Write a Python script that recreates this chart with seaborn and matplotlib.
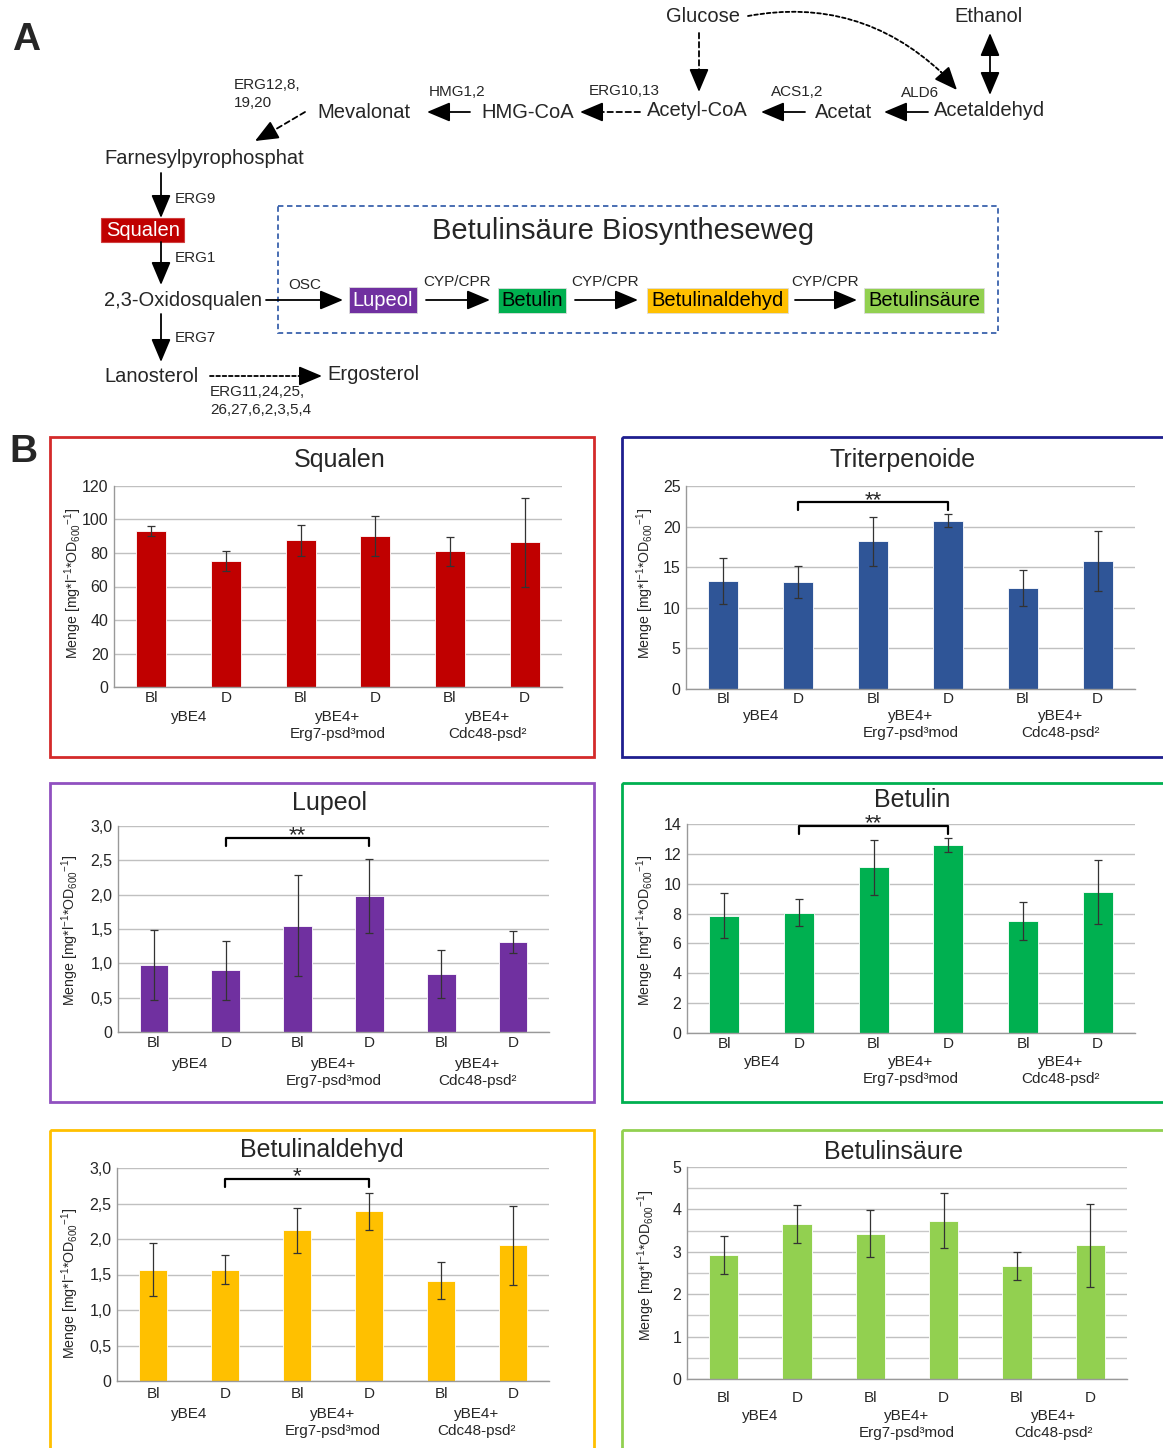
import numpy as np
import pandas as pd
import matplotlib
matplotlib.use("Agg")
import matplotlib.pyplot as plt
import matplotlib.transforms as mtransforms
from matplotlib.patches import Rectangle
import seaborn as sns

sns.set_theme(style="white")
plt.rcParams['font.family'] = ['Liberation Sans', 'DejaVu Sans']
plt.rcParams['mathtext.default'] = 'regular'

W, H = 1163, 1448

# ---------------- data ----------------
bar_labels = ["Bl", "D", "Bl", "D", "Bl", "D"]
strains = ["yBE4", "yBE4+\nErg7-psd³mod", "yBE4+\nCdc48-psd²"]
ylabel = "Menge [mg*l$^{-1}$*OD$_{600}$$^{-1}$]"

squalen_mean = [93, 75, 87.5, 90, 81, 86.5]
squalen_err = [3, 6, 9.5, 12, 8.5, 26.5]

triterp_mean = [13.3, 13.2, 18.2, 20.7, 12.4, 15.8]
triterp_err = [2.8, 2.0, 3.0, 0.8, 2.2, 3.7]

lupeol_mean = [0.98, 0.90, 1.55, 1.98, 0.85, 1.31]
lupeol_err = [0.51, 0.43, 0.73, 0.54, 0.35, 0.16]

betulin_mean = [7.85, 8.05, 11.1, 12.6, 7.5, 9.45]
betulin_err = [1.5, 0.9, 1.85, 0.45, 1.3, 2.15]

aldehyd_mean = [1.57, 1.57, 2.12, 2.39, 1.41, 1.91]
aldehyd_err = [0.37, 0.20, 0.32, 0.26, 0.26, 0.56]

saeure_mean = [2.93, 3.65, 3.43, 3.73, 2.66, 3.15]
saeure_err = [0.45, 0.45, 0.55, 0.65, 0.33, 0.98]

sq_ticks = ["0", "20", "40", "60", "80", "100", "120"]
tt_ticks = ["0", "5", "10", "15", "20", "25"]
lu_ticks = ["0", "0,5", "1,0", "1,5", "2,0", "2,5", "3,0"]
be_ticks = ["0", "2", "4", "6", "8", "10", "12", "14"]
al_ticks = ["0", "0,5", "1,0", "1,5", "2,0", "2,5", "3,0"]
sa_ticks = ["0", "1", "2", "3", "4", "5"]

# ---------------- figure ----------------
fig = plt.figure(figsize=(W / 100, H / 100), dpi=100)
fig.patch.set_facecolor("white")
ov = fig.add_axes([0, 0, 1, 1])
ov.set_xlim(0, W)
ov.set_ylim(H, 0)
ov.axis("off")

BIG = 14.5
SMALL = 11
HEAD = "-|>,head_length=0.95,head_width=0.4"

def T(x, y, s, size=BIG, ha="center", va="center", **kw):
    ov.text(x, y, s, fontsize=size, ha=ha, va=va, **kw)

def arrow(x0, y0, x1, y1, style=HEAD, lw=1.3):
    ov.annotate("", xy=(x1, y1), xytext=(x0, y0),
                arrowprops=dict(arrowstyle=style, color="black", lw=lw,
                                shrinkA=0, shrinkB=0, mutation_scale=15))

def dashed_arrow(x0, y0, x1, y1, hx, hy, rad=0.0, dash=(3, 2)):
    # dashed shaft ending at (hx, hy), solid head from (hx, hy) to (x1, y1)
    ov.annotate("", xy=(hx, hy), xytext=(x0, y0),
                arrowprops=dict(arrowstyle="-", color="black", lw=1.3,
                                linestyle=(0, dash), shrinkA=0, shrinkB=0,
                                connectionstyle=f"arc3,rad={rad}"))
    arrow(hx, hy, x1, y1)

# panel letters
T(26, 40, "A", size=28, weight="bold")
T(23, 452, "B", size=28, weight="bold")

# top pathway
T(703, 16, "Glucose")
T(989, 16, "Ethanol")
T(990, 110, "Acetaldehyd")
T(844, 112, "Acetat")
T(697, 110, "Acetyl-CoA")
T(528, 112, "HMG-CoA")
T(364, 112, "Mevalonat")
T(234, 94, "ERG12,8,\n19,20", size=SMALL, ha="left", linespacing=1.4)
T(457, 92, "HMG1,2", size=SMALL)
T(624, 91, "ERG10,13", size=SMALL)
T(797, 92, "ACS1,2", size=SMALL)
T(920, 93, "ALD6", size=SMALL)

arrow(928, 112, 884, 112)
arrow(805, 112, 761, 112)
dashed_arrow(640, 112, 580, 112, 598, 112)
arrow(470, 112, 427, 112)
dashed_arrow(305, 112, 255, 141, 271, 132)
dashed_arrow(699, 33, 699, 92, 699, 74)
dashed_arrow(748, 16, 957, 90, 941, 72, rad=-0.25, dash=(2, 1.5))
arrow(990, 33, 990, 95, style="<|-|>,head_length=0.95,head_width=0.4")

# left column
T(104, 158, "Farnesylpyrophosphat", ha="left")
T(175, 199, "ERG9", size=SMALL, ha="left")
ov.add_patch(Rectangle((101, 218), 83, 24, facecolor="#c00000", edgecolor="#d04040", lw=0.8))
T(143, 230, "Squalen", color="white")
T(175, 258, "ERG1", size=SMALL, ha="left")
T(104, 300, "2,3-Oxidosqualen", ha="left")
T(175, 338, "ERG7", size=SMALL, ha="left")
T(104, 376, "Lanosterol", ha="left")
T(327, 374, "Ergosterol", ha="left")
T(210, 401, "ERG11,24,25,\n26,27,6,2,3,5,4", size=SMALL, ha="left", linespacing=1.4)

arrow(161, 173, 161, 218)
arrow(161, 242, 161, 285)
arrow(161, 314, 161, 362)
dashed_arrow(210, 376, 322, 376, 304, 376, dash=(2, 1.5))

# Biosynthesis box
ov.add_patch(Rectangle((278, 206), 720, 127, facecolor="none", edgecolor="#3a62ad",
                       lw=1.3, linestyle=(0, (3, 2))))
T(623, 231, "Betulinsäure Biosyntheseweg", size=21)
T(305, 285, "OSC", size=SMALL)
for cx in (457, 605, 825):
    T(cx, 282, "CYP/CPR", size=SMALL)
boxes = [((349, 287, 68, 26), "#7030a0", "Lupeol", "white"),
         ((498, 288, 68, 25), "#00b050", "Betulin", "black"),
         ((647, 288, 141, 25), "#ffc000", "Betulinaldehyd", "black"),
         ((864, 288, 120, 25), "#92d050", "Betulinsäure", "black")]
for (x, y, w, h), fc, s, tc in boxes:
    ov.add_patch(Rectangle((x, y), w, h, facecolor=fc, edgecolor="#dddddd", lw=0.6))
    T(x + w / 2, y + h / 2 + 0.5, s, color=tc)
arrow(266, 300, 343, 300)
arrow(426, 300, 490, 300)
arrow(575, 300, 638, 300)
arrow(795, 300, 857, 300)

# ---------------- bar panels ----------------
def panel(box, box_color, title, title_xy, axrect, means, errs, color, ymax, step,
          ticklabels, ylab_xy, tick_off, grp_off, minor=None, sig=None):
    bx0, by0, bx1, by1 = box
    ov.add_patch(Rectangle((bx0, by0), bx1 - bx0, by1 - by0, facecolor="none",
                           edgecolor=box_color, lw=2.0))
    T(title_xy[0], title_xy[1], title, size=18)
    T(ylab_xy[0], ylab_xy[1], ylabel, size=10.2, rotation=90)

    l, r, t, b = axrect
    ax = fig.add_axes([l / W, 1 - b / H, (r - l) / W, (b - t) / H])
    df = pd.DataFrame({"pos": [str(i) for i in range(6)], "val": means})
    sns.barplot(data=df, x="pos", y="val", order=[str(i) for i in range(6)],
                color=color, saturation=1, width=0.4, errorbar=None, ax=ax,
                edgecolor="white", linewidth=0.6)
    ax.errorbar(np.arange(6), means, yerr=errs, fmt="none", ecolor="#333333",
                elinewidth=0.9, capsize=3.2, capthick=0.9, zorder=4)
    ax.set_xlim(-0.5, 5.5)
    ax.set_ylim(0, ymax)
    ax.set_yticks(np.arange(0, ymax + step / 2, step))
    ax.set_yticklabels(ticklabels)
    if minor is not None:
        ax.set_yticks(np.arange(0, ymax + minor / 2, minor), minor=True)
        ax.yaxis.grid(True, which="minor", color="#c8c8c8", lw=1.0)
        ax.tick_params(axis="y", which="minor", length=3, color="#999999")
    ax.yaxis.grid(True, which="major", color="#c0c0c0", lw=1.0)
    ax.set_axisbelow(True)
    ax.set_xticks(np.arange(6))
    ax.set_xticklabels(bar_labels)
    ax.set_xticks(np.arange(-0.5, 6, 1), minor=True)
    ax.tick_params(axis="x", which="major", length=0, labelsize=11, pad=tick_off)
    ax.tick_params(axis="x", which="minor", length=8, color="#999999", width=1)
    ax.tick_params(axis="y", which="major", length=3, color="#999999", labelsize=11.5, pad=1)
    ax.set_xlabel("")
    ax.set_ylabel("")
    for s in ("top", "right"):
        ax.spines[s].set_visible(False)
    for s in ("left", "bottom"):
        ax.spines[s].set_color("#999999")
        ax.spines[s].set_linewidth(1.0)
    ax.set_facecolor("white")
    trans = mtransforms.blended_transform_factory(ax.transData, ax.transAxes)
    for g, name in enumerate(strains):
        ax.annotate(name, xy=(2 * g + 0.5, 0), xycoords=trans,
                    xytext=(0, -grp_off * 0.72), textcoords="offset points",
                    ha="center", va="top", fontsize=11, linespacing=1.25)
    if sig is not None:
        y0, y1, s = sig
        ax.plot([1, 1, 3, 3], [y0, y1, y1, y0], color="black", lw=1.6, clip_on=False, zorder=5)
        ax.annotate(s, xy=(2, y1), xycoords="data", xytext=(0, -2.5),
                    textcoords="offset points", ha="center", va="baseline",
                    fontsize=16, annotation_clip=False)
    return ax

panel((50, 437, 594, 757), "#d42a2a", "Squalen", (340, 460), (114, 562, 486, 687),
      squalen_mean, squalen_err, "#c00000", 120, 20, sq_ticks, (73, 583), 3, 23)
panel((622, 437, 1175, 757), "#1f1f8f", "Triterpenoide", (903, 460), (686, 1135, 486, 689),
      triterp_mean, triterp_err, "#2f5597", 25, 5, tt_ticks, (645, 583), 2, 20,
      sig=(22.0, 23.0, "**"))
panel((50, 783, 594, 1102), "#9050c0", "Lupeol", (330, 803), (118, 549, 826, 1032),
      lupeol_mean, lupeol_err, "#7030a0", 3.0, 0.5, lu_ticks, (70, 930), 3, 25,
      sig=(2.71, 2.83, "**"))
panel((622, 783, 1175, 1102), "#00b050", "Betulin", (912, 800), (687, 1135, 824, 1033),
      betulin_mean, betulin_err, "#00b050", 14, 2, be_ticks, (645, 930), 3, 22,
      sig=(13.35, 13.87, "**"))
panel((50, 1130, 594, 1470), "#ffc000", "Betulinaldehyd", (322, 1150), (117, 549, 1168, 1381),
      aldehyd_mean, aldehyd_err, "#ffc000", 3.0, 0.5, al_ticks, (70, 1283), 4, 26,
      sig=(2.73, 2.845, "*"))
panel((622, 1130, 1175, 1470), "#92d050", "Betulinsäure", (893, 1152), (687, 1127, 1167, 1379),
      saeure_mean, saeure_err, "#92d050", 5, 1, sa_ticks, (646, 1265), 9, 30, minor=0.5)

fig.savefig("out.png", dpi=100, facecolor="white")
